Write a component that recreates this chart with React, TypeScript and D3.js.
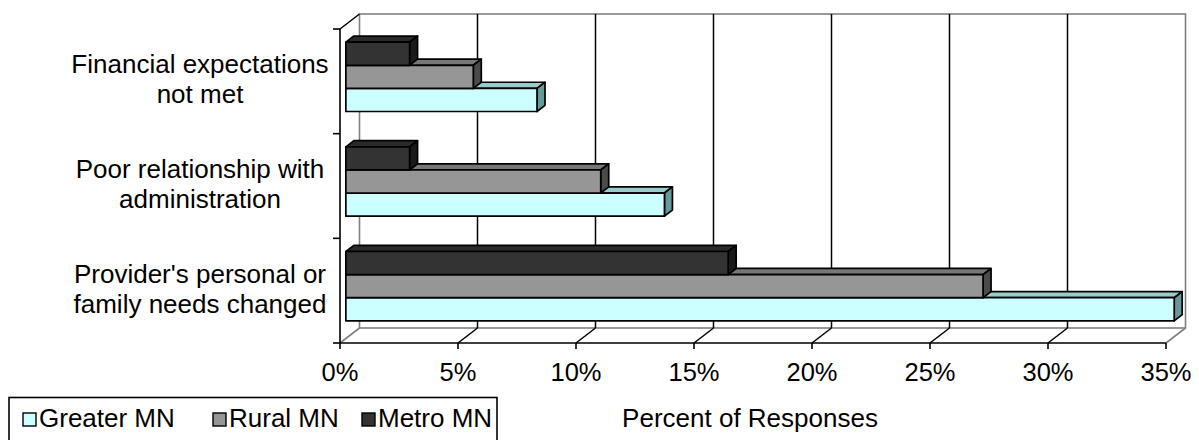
import React from "react";
import * as d3 from "d3";

// Reasons providers left, percent of responses by region
const categories = [
  "Financial expectations not met",
  "Poor relationship with administration",
  "Provider's personal or family needs changed",
];
const categoryLines = [
  ["Financial expectations", "not met"],
  ["Poor relationship with", "administration"],
  ["Provider's personal or", "family needs changed"],
];
const seriesNames = ["Greater MN", "Rural MN", "Metro MN"];
const greaterMN = [8.1, 13.5, 35.1];
const ruralMN = [5.4, 10.8, 27.0];
const metroMN = [2.7, 2.7, 16.2];
const tickValues = [0, 5, 10, 15, 20, 25, 30, 35];
const axisTitle = "Percent of Responses";

const W = 1199;
const H = 440;
const FONT = "'Liberation Sans', Arial, Helvetica, sans-serif";
const FS = 26;

// face colours: front, top, side
const palette: Record<string, [string, string, string]> = {
  "Greater MN": ["#ccffff", "#99cccc", "#669999"],
  "Rural MN": ["#969696", "#777777", "#4b4b4b"],
  "Metro MN": ["#333333", "#2a2a2a", "#1a1a1a"],
};

// depth of the 3-D box (offset of back plane from front plane)
const DX = 19.5;
const DY = -15;
const BAR_FRONT = 0.3;
const BAR_BACK = 0.71;

export default function App() {
  const x = d3.scaleLinear().domain([0, 35]).range([340, 1166]);
  const yTop = 29;
  const yBottom = 343;
  const yCat = d3
    .scaleBand<string>()
    .domain(categories)
    .range([yTop, yBottom])
    .paddingInner(0.338)
    .paddingOuter(0.169);
  // within a group: Metro on top, Greater at the bottom
  const ySer = d3
    .scaleBand<string>()
    .domain(["Metro MN", "Rural MN", "Greater MN"])
    .range([0, yCat.bandwidth()]);

  const values: Record<string, number[]> = {
    "Greater MN": greaterMN,
    "Rural MN": ruralMN,
    "Metro MN": metroMN,
  };

  const P = (v: number, y: number, d: number): [number, number] => [
    x(v) + d * DX,
    y + d * DY,
  ];
  const poly = (pts: [number, number][]) =>
    pts.map((p) => p.join(",")).join(" ");

  const gray = "#808080";
  const backLeft = P(0, yTop, 1);
  const backRight = P(35, yBottom, 1);

  const bars: React.ReactNode[] = [];
  categories.forEach((cat, i) => {
    // draw bottom bar first so the bar above covers its top face
    seriesNames.forEach((s) => {
      const v = values[s][i];
      const y0 = (yCat(cat) as number) + (ySer(s) as number);
      const y1 = y0 + ySer.bandwidth();
      const [front, top, side] = palette[s];
      const a = BAR_FRONT;
      const b = BAR_BACK;
      bars.push(
        <g key={cat + s} stroke="#000" strokeWidth={1.7} strokeLinejoin="round">
          <polygon
            points={poly([P(0, y0, a), P(v, y0, a), P(v, y0, b), P(0, y0, b)])}
            fill={top}
          />
          <polygon
            points={poly([P(v, y0, a), P(v, y0, b), P(v, y1, b), P(v, y1, a)])}
            fill={side}
          />
          <polygon
            points={poly([P(0, y0, a), P(v, y0, a), P(v, y1, a), P(0, y1, a)])}
            fill={front}
          />
        </g>
      );
    });
  });

  const catTicks = [
    yTop,
    ...categories.map(
      (c) =>
        (yCat(c) as number) +
        yCat.bandwidth() +
        (yCat.step() - yCat.bandwidth()) / 2
    ),
  ];

  const legendItems = [
    { name: "Greater MN", sx: 23, tx: 39 },
    { name: "Rural MN", sx: 213, tx: 229 },
    { name: "Metro MN", sx: 362, tx: 378 },
  ];

  return (
    <svg
      width={W}
      height={H}
      style={{ position: "absolute", left: 0, top: 0, background: "#fff" }}
      fontFamily={FONT}
    >
      <rect x={0} y={0} width={W} height={H} fill="#fff" />

      {/* back wall */}
      <rect
        x={backLeft[0]}
        y={backLeft[1]}
        width={backRight[0] - backLeft[0]}
        height={backRight[1] - backLeft[1]}
        fill="#fff"
        stroke={gray}
        strokeWidth={1.6}
      />

      {/* gridlines on the back wall and floor */}
      {tickValues.slice(1, -1).map((t) => {
        const b0 = P(t, yTop, 1);
        const b1 = P(t, yBottom, 1);
        const f = P(t, yBottom, 0);
        return (
          <g key={"g" + t} stroke="#000" strokeWidth={1.5}>
            <line x1={b0[0]} y1={b0[1]} x2={b1[0]} y2={b1[1]} />
            <line x1={f[0]} y1={f[1]} x2={b1[0]} y2={b1[1]} />
          </g>
        );
      })}

      {/* floor edges at 0% and 35% */}
      {[0, 35].map((t) => {
        const f = P(t, yBottom, 0);
        const b = P(t, yBottom, 1);
        return (
          <line
            key={"e" + t}
            x1={f[0]}
            y1={f[1]}
            x2={b[0]}
            y2={b[1]}
            stroke={gray}
            strokeWidth={1.6}
          />
        );
      })}

      {/* top-left edge of the side wall */}
      <line
        x1={x(0)}
        y1={yTop}
        x2={backLeft[0]}
        y2={backLeft[1]}
        stroke="#000"
        strokeWidth={1.5}
      />

      {bars}

      {/* front axes */}
      <g stroke="#000" strokeWidth={1.6}>
        <line x1={x(0)} y1={yTop} x2={x(0)} y2={yBottom} />
        <line x1={x(0)} y1={yBottom} x2={x(35)} y2={yBottom} />
        {catTicks.map((y, i) => (
          <line key={"ct" + i} x1={x(0) - 7} y1={y} x2={x(0)} y2={y} />
        ))}
        {tickValues.map((t) => (
          <line key={"xt" + t} x1={x(t)} y1={yBottom} x2={x(t)} y2={yBottom + 6} />
        ))}
      </g>

      {/* tick labels */}
      {tickValues.map((t) => (
        <text key={"tl" + t} x={x(t)} y={381} textAnchor="middle" fontSize={25.5} fill="#000">
          {d3.format("d")(t) + "%"}
        </text>
      ))}

      {/* category labels */}
      {categories.map((c, i) => {
        const cy = (yCat(c) as number) + yCat.bandwidth() / 2;
        return (
          <text key={"cl" + i} x={200} y={cy - 8} textAnchor="middle" fontSize={FS} fill="#000">
            {categoryLines[i].map((ln, k) => (
              <tspan key={k} x={200} dy={k === 0 ? 0 : 30}>
                {ln}
              </tspan>
            ))}
          </text>
        );
      })}

      {/* axis title */}
      <text x={750} y={427} textAnchor="middle" fontSize={FS} fill="#000">
        {axisTitle}
      </text>

      {/* legend */}
      <rect x={9} y={397.5} width={488} height={60} fill="#fff" stroke="#000" strokeWidth={1.6} />
      {legendItems.map((it) => (
        <g key={it.name}>
          <rect
            x={it.sx}
            y={413}
            width={13}
            height={13}
            fill={palette[it.name][0]}
            stroke="#000"
            strokeWidth={1.4}
          />
          <text x={it.tx} y={427} fontSize={FS} fill="#000">
            {it.name}
          </text>
        </g>
      ))}
    </svg>
  );
}
